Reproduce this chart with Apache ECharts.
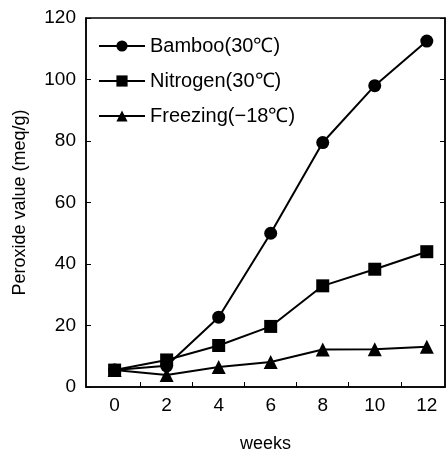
<!DOCTYPE html>
<html><head><meta charset="utf-8">
<script src="https://cdn.jsdelivr.net/npm/echarts@6/dist/echarts.min.js"></script>
<style>html,body{margin:0;padding:0;background:#fff}#c{width:447px;height:458px}</style>
</head><body><div id="c"></div>
<script>
var weeks = [0, 2, 4, 6, 8, 10, 12];
var bamboo = [5.5, 6.9, 22.7, 50, 79.5, 98, 112.5];
var nitrogen = [5.5, 8.8, 13.5, 19.7, 32.9, 38.3, 44];
var freezing = [5.5, 3.9, 6.5, 8.1, 12.2, 12.3, 13.1];
var xTickLabels = [0, 2, 4, 6, 8, 10, 12];
var xMinorTicks = [1, 3, 5, 7, 9, 11];
var seriesNames = ['Bamboo(30℃)', 'Nitrogen(30℃)', 'Freezing(−18℃)'];

function pairs(v){ return weeks.map(function(w,i){ return [w, v[i]]; }); }
var font = 'Liberation Sans, Arial, sans-serif';
var chart = echarts.init(document.getElementById('c'));
var common = {type:'line', lineStyle:{color:'#000', width:2}, itemStyle:{color:'#000'}, symbolKeepAspect:true};
chart.setOption({
  animation:false,
  grid:{left:86, top:18, right:2, bottom:65, show:true, borderColor:'#000', borderWidth:1.5},
  legend:{orient:'vertical', left:93, top:31, itemGap:15, itemWidth:46, itemHeight:14,
    textStyle:{fontFamily:font, fontSize:20, color:'#000'},
    data:seriesNames},
  xAxis:{type:'value', min:-1.1, max:12.7,
    name:'weeks', nameLocation:'middle', nameGap:48,
    nameTextStyle:{fontFamily:font, fontSize:18, color:'#000'},
    axisLine:{onZero:false, lineStyle:{color:'#000', width:1.5}},
    axisTick:{show:true, inside:true, length:5, customValues:xMinorTicks, lineStyle:{color:'#000'}},
    axisLabel:{customValues:xTickLabels, fontFamily:font, fontSize:19, color:'#000', margin:9},
    splitLine:{show:false}},
  yAxis:[{type:'value', min:0, max:120, interval:20,
    name:'Peroxide value (meq/g)', nameLocation:'middle', nameGap:57,
    nameTextStyle:{fontFamily:font, fontSize:18, color:'#000'},
    axisLine:{show:true, onZero:false, lineStyle:{color:'#000', width:1.5}},
    axisTick:{show:true, inside:true, length:5, lineStyle:{color:'#000'}},
    axisLabel:{fontFamily:font, fontSize:19, color:'#000', margin:10},
    splitLine:{show:false}},
   {type:'value', min:0, max:120, interval:20, position:'right',
    axisLine:{show:true, onZero:false, lineStyle:{color:'#000', width:1.5}},
    axisTick:{show:true, inside:true, length:5, lineStyle:{color:'#000'}},
    axisLabel:{show:false}, splitLine:{show:false}}],
  series:[
    Object.assign({name:seriesNames[0], data:pairs(bamboo), symbol:'circle', symbolSize:13}, common),
    Object.assign({name:seriesNames[1], data:pairs(nitrogen), symbol:'rect', symbolSize:13}, common),
    Object.assign({name:seriesNames[2], data:pairs(freezing), symbol:'triangle', symbolSize:14}, common)
  ]
});
</script></body></html>
